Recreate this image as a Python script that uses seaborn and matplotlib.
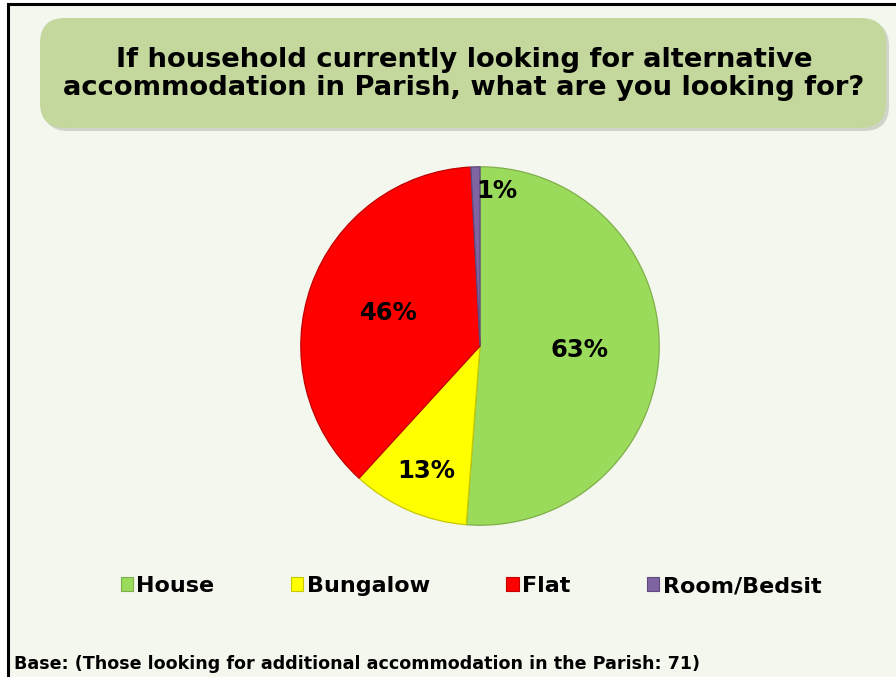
import matplotlib
matplotlib.use("Agg")
import matplotlib.pyplot as plt
from matplotlib.patches import FancyBboxPatch, Rectangle, Patch
import numpy as np
import seaborn as sns

# Survey answers (multiple responses allowed, so percentages exceed 100)
categories = ["House", "Bungalow", "Flat", "Room/Bedsit"]
percentages = [63, 13, 46, 1]
slice_colors = ["#9BDB5C", "#FFFF00", "#FF0000", "#8064A2"]
edge_colors = ["#7FAF4A", "#C8C800", "#C00000", "#5E4A7C"]
label_radius = [0.555, 0.76, 0.54, 0.865]
label_align = ["center", "center", "center", "left"]

title_text = "If household currently looking for alternative\naccommodation in Parish, what are you looking for?"
base_text = "Base: (Those looking for additional accommodation in the Parish: 71)"

sns.set_theme(style="white")
plt.rcParams["font.family"] = ["DejaVu Sans"]
plt.rcParams["text.color"] = "black"

W, H = 896, 677
fig = plt.figure(figsize=(W / 100, H / 100), dpi=100)
fig.patch.set_facecolor("white")


def fx(px):
    return px / W


def fy(py):
    return 1 - py / H


# Panel background and frame (right and bottom edges run off the canvas)
fig.patches.append(Rectangle((fx(8), -0.1), 1.2, fy(4) + 0.1, transform=fig.transFigure,
                             facecolor="#F4F7EE", edgecolor="black", linewidth=2.2,
                             zorder=-5))

# Title banner with soft shadow
shadow = FancyBboxPatch((fx(43), fy(131)), fx(846), fy(21) - fy(131),
                        boxstyle="round,pad=0,rounding_size=0.028",
                        transform=fig.transFigure, facecolor="#B8BCB0",
                        edgecolor="none", alpha=0.6, zorder=-4,
                        mutation_aspect=W / H)
fig.patches.append(shadow)
banner = FancyBboxPatch((fx(40), fy(128)), fx(846), fy(18) - fy(128),
                        boxstyle="round,pad=0,rounding_size=0.028",
                        transform=fig.transFigure, facecolor="#C4D79C",
                        edgecolor="none", zorder=-3, mutation_aspect=W / H)
fig.patches.append(banner)
fig.text(fx(464), fy(74), title_text, ha="center", va="center",
         fontsize=19.7, fontweight="bold", color="black", linespacing=1.12,
         zorder=3)

# Pie chart
cx, cy, r = 480, 346, 181
ax = fig.add_axes([fx(cx - r), fy(cy + r), fx(2 * r), fy(cy - r) - fy(cy + r)])
ax.set_facecolor("none")
wedges, _ = ax.pie(percentages, colors=slice_colors, startangle=90,
                   counterclock=False, radius=1.0,
                   wedgeprops=dict(linewidth=0.9))
for w, ec in zip(wedges, edge_colors):
    w.set_edgecolor(ec)
for w, val, rad, ha in zip(wedges, percentages, label_radius, label_align):
    mid = np.deg2rad((w.theta1 + w.theta2) / 2)
    ax.text(rad * np.cos(mid), rad * np.sin(mid), f"{val}%", ha=ha,
            va="center", fontsize=17.5, fontweight="bold", color="black")
ax.set_xlim(-1.01, 1.01)
ax.set_ylim(-1.01, 1.01)
ax.set_aspect("equal")
ax.axis("off")

# Legend
handles = [Patch(facecolor=c, edgecolor=e, linewidth=0.8)
           for c, e in zip(slice_colors, edge_colors)]
leg = fig.legend(handles, categories, loc="center", bbox_to_anchor=(fx(471), fy(586)),
                 ncol=4, frameon=False, handlelength=0.55, handleheight=0.55,
                 handletextpad=0.15, columnspacing=3.45,
                 prop=dict(size=16, weight="bold"))
for t in leg.get_texts():
    t.set_color("black")

fig.text(fx(14), fy(664), base_text, ha="left", va="center", fontsize=12.6,
         fontweight="bold", color="black")

fig.savefig("out.png", dpi=100, facecolor=fig.get_facecolor())
